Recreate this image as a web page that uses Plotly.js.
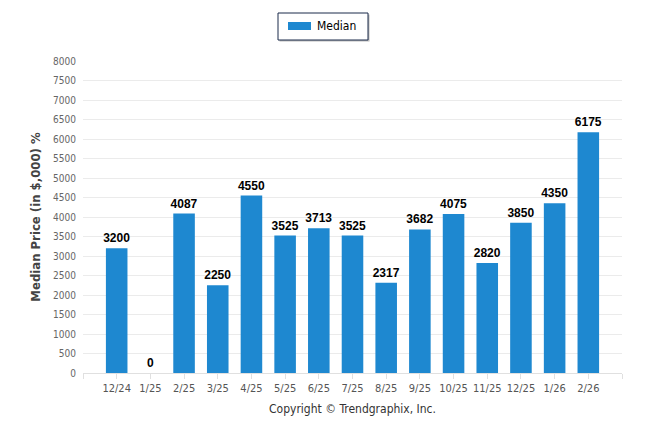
<!DOCTYPE html>
<html>
<head>
<meta charset="utf-8">
<script src="https://cdn.plot.ly/plotly-3.0.1.min.js"></script>
<style>html,body{margin:0;padding:0;background:#fff;}#chart{width:646px;height:434px;}</style>
</head>
<body>
<div id="chart"></div>
<script>
const categories = ["12/24","1/25","2/25","3/25","4/25","5/25","6/25","7/25","8/25","9/25","10/25","11/25","12/25","1/26","2/26"];
const medianValues = [3200,0,4087,2250,4550,3525,3713,3525,2317,3682,4075,2820,3850,4350,6175];
const seriesName = "Median";
const yTitle = "Median Price (in $,000) %";
const creditText = "Copyright © Trendgraphix, Inc.";
const barColor = "#1e88d0";

const W = 646, H = 434, M = {l: 83, r: 24, t: 61, b: 61};
const pw = W - M.l - M.r, ph = H - M.t - M.b;
// pixel -> paper helpers for decoration (legend box, credit)
const px = v => (v - M.l) / pw;
const py = v => (H - M.b - v) / ph;

const xIdx = categories.map((_, i) => i);
const tickVals = [-1].concat(xIdx, [categories.length]);
const tickText = [""].concat(categories, [""]);

const trace = {
  type: "bar",
  name: seriesName,
  x: xIdx,
  y: medianValues,
  marker: {color: barColor},
  width: 0.64,
  text: medianValues.map(String),
  textposition: "outside",
  textfont: {family: "Liberation Sans, Arial, sans-serif", size: 12, color: "#000", weight: "bold"},
  constraintext: "none",
  cliponaxis: false,
  hoverinfo: "x+y",
  showlegend: false
};

const fontUI = "DejaVu Sans Condensed, Liberation Sans, sans-serif";

const layout = {
  width: W, height: H,
  margin: M,
  paper_bgcolor: "#fff", plot_bgcolor: "#fff",
  font: {family: "Liberation Sans, Arial, sans-serif", color: "#666"},
  xaxis: {
    type: "linear",
    range: [-1, categories.length],
    tickvals: tickVals,
    ticktext: tickText,
    ticks: "outside", ticklen: 5, tickcolor: "#e0e0e0", tickwidth: 1,
    showline: true, linecolor: "#e0e0e0", linewidth: 1,
    showgrid: false, zeroline: false,
    tickfont: {size: 11, color: "#555", family: fontUI}
  },
  yaxis: {
    range: [0, 8000],
    tickvals: [0,500,1000,1500,2000,2500,3000,3500,4000,4500,5000,5500,6000,6500,7000,7500,8000],
    showgrid: true, gridcolor: "#ebebeb", gridwidth: 1,
    zeroline: false, showline: false,
    ticks: "", ticklabelstandoff: 6,
    tickfont: {size: 10, color: "#666", family: fontUI},
    title: {text: yTitle, standoff: 9, font: {size: 13, color: "#444", family: fontUI, weight: "bold"}}
  },
  showlegend: false,
  shapes: [
    // legend shadow
    {type: "rect", xref: "paper", yref: "paper", x0: px(279.5), x1: px(369.5), y0: py(14.5), y1: py(41.5),
     line: {width: 0}, fillcolor: "rgba(60,60,60,0.35)", layer: "above"},
    // legend box
    {type: "rect", xref: "paper", yref: "paper", x0: px(278), x1: px(368), y0: py(13), y1: py(40),
     line: {width: 1, color: "#1a2a4a"}, fillcolor: "#fff", layer: "above"},
    // legend symbol
    {type: "rect", xref: "paper", yref: "paper", x0: px(288), x1: px(311), y0: py(22), y1: py(30),
     line: {width: 0}, fillcolor: barColor, layer: "above"}
  ],
  annotations: [
    {text: seriesName, xref: "paper", yref: "paper", x: px(315), y: py(26.5),
     xanchor: "left", yanchor: "middle", showarrow: false,
     font: {size: 12, color: "#000", family: fontUI}},
    {text: creditText, xref: "paper", yref: "paper",
     x: 0.5, y: py(409), xanchor: "center", yanchor: "middle", showarrow: false,
     font: {size: 12, color: "#333", family: fontUI}}
  ]
};

Plotly.newPlot("chart", [trace], layout, {displayModeBar: false, staticPlot: true});
</script>
</body>
</html>
